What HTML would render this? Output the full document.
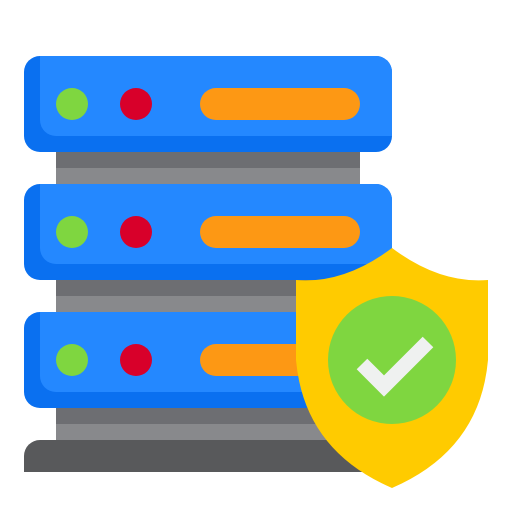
<!DOCTYPE html>
<html><head><style>html,body{margin:0;padding:0;background:#fff}</style></head><body>
<svg width="512" height="512" viewBox="0 0 512 512" xmlns="http://www.w3.org/2000/svg">
<g>
<rect x="56" y="152" width="304" height="16" fill="#6d6e72"/>
<rect x="56" y="168" width="304" height="16" fill="#88898c"/>
<rect x="56" y="280" width="304" height="16" fill="#6d6e72"/>
<rect x="56" y="296" width="304" height="16" fill="#88898c"/>
<rect x="56" y="408" width="304" height="16" fill="#6d6e72"/>
<rect x="56" y="424" width="304" height="16" fill="#88898c"/>
<path d="M40 440 H370 V472 H24 V456 A16 16 0 0 1 40 440 Z" fill="#58595b"/>
</g>
<g id="s">
<rect x="24" y="56" width="368" height="96" rx="16" fill="#0a70f0"/>
<path d="M40 56 H376 A16 16 0 0 1 392 72 V136 H56 A16 16 0 0 1 40 120 Z" fill="#2488ff"/>
<circle cx="72" cy="104" r="16" fill="#7fd640"/>
<circle cx="136" cy="104" r="16" fill="#d8002a"/>
<rect x="200" y="88" width="160" height="32" rx="16" fill="#fd9814"/>
</g>
<use href="#s" y="128"/>
<use href="#s" y="256"/>
<path d="M392 248 Q440 284 488 280 V360 Q480 450 392 488 Q304 450 296 360 V280 Q344 284 392 248 Z" fill="#ffcb00"/>
<circle cx="392" cy="360" r="64" fill="#7fd640"/>
<polyline points="362,364 384,386 428,342" fill="none" stroke="#eff1f0" stroke-width="15"/>
</svg>
</body></html>
